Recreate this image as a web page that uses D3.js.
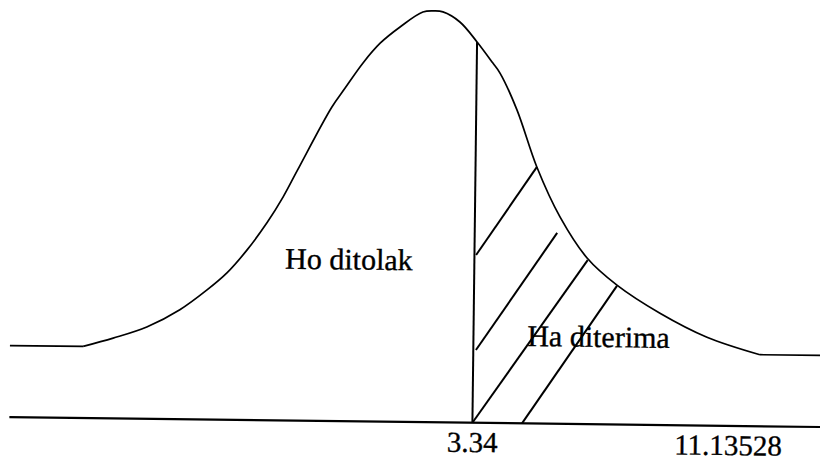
<!DOCTYPE html>
<html>
<head>
<meta charset="utf-8">
<script src="https://cdn.jsdelivr.net/npm/d3@7/dist/d3.min.js"></script>
<style>
  html, body { margin: 0; padding: 0; background: #fff; }
  svg { display: block; }
  text { font-family: "Liberation Serif", "Times New Roman", serif; fill: #000; stroke: #000; stroke-width: 0.35px; }
</style>
</head>
<body>
<svg id="chart" width="820" height="463"></svg>
<script>
// Density curve, sampled (x in test-statistic units, y as relative height)
const curveX = [-10.77, -8.54, -7.63, -6.61, -5.61, -4.79, -4.19, -3.59, -2.99, -2.51,
                -2.08, -1.06, -0.66, -0.13, 0.39, 0.99, 1.68, 2.02, 2.29, 2.81,
                3.34, 3.83, 4.05, 4.58, 5.21, 5.93, 6.77, 7.69, 9.01, 10.45,
                12.07, 13.90];
const curveY = [0.174, 0.174, 0.195, 0.223, 0.266, 0.315, 0.357, 0.413, 0.480, 0.543,
                0.609, 0.763, 0.810, 0.871, 0.920, 0.960, 0.997, 1.000, 0.998, 0.974,
                0.926, 0.875, 0.851, 0.762, 0.623, 0.503, 0.404, 0.339, 0.272, 0.215,
                0.174, 0.174];

// Critical value and the second reference value on the axis
const tickValues = [3.34, 11.13528];
const tickLabels = ["3.34", "11.13528"];
const criticalValue = 3.34;
const criticalHeight = 0.926;

// Hatching of the acceptance region for Ha: [x0, y0, x1, y1]
const hatchX0 = [3.39, 3.42, 3.34, 4.85];
const hatchY0 = [0.408, 0.177, 0.0, 0.0];
const hatchX1 = [5.21, 5.85, 6.79, 7.69];
const hatchY1 = [0.624, 0.464, 0.399, 0.337];

// Region labels
const regionLabels = ["Ho ditolak", "Ha diterima"];
const regionLabelX = [-2.42, 4.98];
const regionLabelY = [0.369, 0.188];

const axisStart = -10.76, axisEnd = 14.2;

const svg = d3.select("#chart");
const x = d3.scaleLinear().domain([3.34, 11.13528]).range([472.8, 728.8]);
const y = d3.scaleLinear().domain([0, 1]).range([422, 10.7]);

// the whole figure sits with a slight clockwise tilt
const g = svg.append("g").attr("transform", "rotate(0.7, 410, 390)");

const pts = curveX.map((v, i) => [v, curveY[i]]);
const n = pts.length;

// baseline axis
g.append("line")
  .attr("x1", x(axisStart)).attr("x2", x(axisEnd))
  .attr("y1", y(0)).attr("y2", y(0))
  .attr("stroke", "#000").attr("stroke-width", 2.2);

// density curve: straight flat tails, smooth body
const straight = d3.line().x(d => x(d[0])).y(d => y(d[1]));
const smooth = d3.line().x(d => x(d[0])).y(d => y(d[1])).curve(d3.curveCatmullRom.alpha(0.5));
const pieces = [
  { d: pts.slice(0, 2), gen: straight },
  { d: pts.slice(1, n - 1), gen: smooth },
  { d: pts.slice(n - 2), gen: straight }
];
g.selectAll("path.curve")
  .data(pieces)
  .join("path")
  .attr("class", "curve")
  .attr("d", p => p.gen(p.d))
  .attr("fill", "none")
  .attr("stroke", "#000")
  .attr("stroke-width", 1.7);

// critical value line
g.append("line")
  .attr("x1", x(criticalValue)).attr("x2", x(criticalValue))
  .attr("y1", y(0)).attr("y2", y(criticalHeight))
  .attr("stroke", "#000").attr("stroke-width", 2);

// hatch lines
g.selectAll("line.hatch")
  .data(hatchX0.map((v, i) => i))
  .join("line")
  .attr("class", "hatch")
  .attr("x1", i => x(hatchX0[i])).attr("y1", i => y(hatchY0[i]))
  .attr("x2", i => x(hatchX1[i])).attr("y2", i => y(hatchY1[i]))
  .attr("stroke", "#000").attr("stroke-width", 2);

// region labels
g.selectAll("text.region")
  .data(regionLabels)
  .join("text")
  .attr("class", "region")
  .attr("x", (d, i) => x(regionLabelX[i]))
  .attr("y", (d, i) => y(regionLabelY[i]))
  .attr("font-size", 30)
  .text(d => d);

// axis value labels
g.selectAll("text.tick")
  .data(tickValues)
  .join("text")
  .attr("class", "tick")
  .attr("x", d => x(d))
  .attr("y", 451.2)
  .attr("text-anchor", "middle")
  .attr("font-size", 29)
  .text((d, i) => tickLabels[i]);
</script>
</body>
</html>
